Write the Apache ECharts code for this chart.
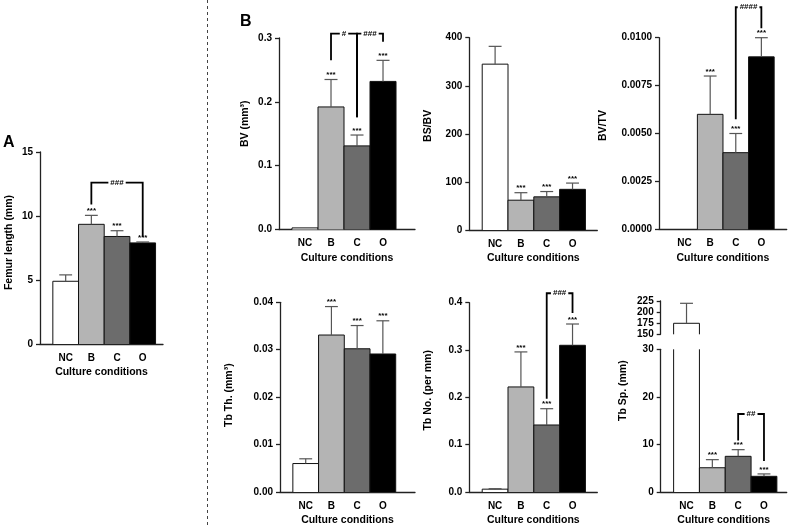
<!DOCTYPE html>
<html><head><meta charset="utf-8">
<script src="https://cdn.jsdelivr.net/npm/echarts@6/dist/echarts.min.js"></script>
<style>html,body{margin:0;padding:0;background:#fff}#c{width:790px;height:527px}</style>
</head><body><div id="c"></div>
<script>
const categories = ['NC', 'B', 'C', 'O'];
const barColors = ['#ffffff', '#b4b4b4', '#6c6c6c', '#000000'];
const xName = 'Culture conditions';

// A: Femur length
const femurTicks = [0, 5, 10, 15];
const femurMean = [4.9, 9.35, 8.4, 7.9];
const femurErr = [0.5, 0.7, 0.45, 0.07];
const femurStars = ['', '***', '***', '***'];
const femurBrackets = [[2, 4, 12.6, 10.9, 8.35]];
const femurBracketLabels = ['###'];

// BV
const bvTicks = [0, 0.1, 0.2, 0.3];
const bvMean = [0.0025, 0.192, 0.131, 0.232];
const bvErr = [0, 0.043, 0.017, 0.033];
const bvStars = ['', '***', '***', '***'];
const bvBrackets = [[2, 3, 0.307, 0.265, 0.176], [3, 4, 0.307, 0.176, 0.294]];
const bvBracketLabels = ['#', '###'];

// BS/BV
const bsbvTicks = [0, 100, 200, 300, 400];
const bsbvMean = [345, 62, 69, 84.6];
const bsbvErr = [37, 15.6, 11, 13];
const bsbvStars = ['', '***', '***', '***'];

// BV/TV
const bvtvTicks = [0, 0.0025, 0.005, 0.0075, 0.01];
const bvtvMean = [0, 0.006, 0.004, 0.009];
const bvtvErr = [0, 0.002, 0.001, 0.001];
const bvtvStars = ['', '***', '***', '***'];
const bvtvBrackets = [[3, 4, 0.01159, 0.00574, 0.01049]];
const bvtvBracketLabels = ['####'];

// Tb Th
const tbthTicks = [0, 0.01, 0.02, 0.03, 0.04];
const tbthMean = [0.006, 0.0331, 0.0302, 0.0291];
const tbthErr = [0.001, 0.006, 0.0049, 0.007];
const tbthStars = ['', '***', '***', '***'];

// Tb No
const tbnoTicks = [0, 0.1, 0.2, 0.3, 0.4];
const tbnoMean = [0.006, 0.222, 0.1416, 0.31];
const tbnoErr = [0.001, 0.074, 0.0344, 0.045];
const tbnoStars = ['', '***', '***', '***'];
const tbnoBrackets = [[3, 4, 0.42, 0.197, 0.378]];
const tbnoBracketLabels = ['###'];

// Tb Sp (broken axis)
const tbspLowTicks = [0, 10, 20, 30];
const tbspHighTicks = [150, 175, 200, 225];
const tbspMean = [174.8, 5.1, 7.5, 3.3];
const tbspErr = [45, 1.7, 1.4, 0.5];
const tbspStars = ['', '***', '***', '***'];
const tbspBrackets = [[3, 4, 16.4, 10.85, 6.5]];
const tbspBracketLabels = ['##'];

const FONT = 'Liberation Sans, Arial, sans-serif';
const AXIS_COLOR = '#222';

const panels = [
  {grid:{left:40, top:152, width:123, height:192}, xMax:4.79, ticks:femurTicks, dec:0, name:'Femur length (mm)', nameGap:25, namePad:[0,0,0,11],
   mean:femurMean, err:femurErr, stars:femurStars, brackets:femurBrackets, bl:femurBracketLabels, showX:true},
  {grid:{left:279, top:38, width:136, height:191.5}, xMax:5.23, ticks:bvTicks, dec:1, name:'BV (mm³)', nameGap:28, namePad:[0,0,0,20],
   mean:bvMean, err:bvErr, stars:bvStars, brackets:bvBrackets, bl:bvBracketLabels, showX:true},
  {grid:{left:469.3, top:37.7, width:128, height:192.3}, xMax:4.96, ticks:bsbvTicks, dec:0, name:'BS/BV', nameGap:36, namePad:[0,0,0,16],
   mean:bsbvMean, err:bsbvErr, stars:bsbvStars, brackets:[], bl:[], showX:true},
  {grid:{left:659, top:37.7, width:127.7, height:191.6}, xMax:4.99, ticks:bvtvTicks, dec:4, name:'BV/TV', nameGap:50, namePad:[0,0,0,16],
   mean:bvtvMean, err:bvtvErr, stars:bvtvStars, brackets:bvtvBrackets, bl:bvtvBracketLabels, showX:true},
  {grid:{left:280, top:302.3, width:135, height:191}, xMax:5.25, ticks:tbthTicks, dec:2, name:'Tb Th. (mm³)', nameGap:45, namePad:[0,0,0,4],
   mean:tbthMean, err:tbthErr, stars:tbthStars, brackets:[], bl:[], showX:true},
  {grid:{left:469.3, top:302.7, width:128, height:191.3}, xMax:4.96, ticks:tbnoTicks, dec:1, name:'Tb No. (per mm)', nameGap:36, namePad:[0,0,0,14],
   mean:tbnoMean, err:tbnoErr, stars:tbnoStars, brackets:tbnoBrackets, bl:tbnoBracketLabels, showX:true},
  {grid:{left:660.7, top:349.3, width:126, height:144.7}, xMax:4.88, ticks:tbspLowTicks, dec:0, name:'Tb Sp. (mm)', nameGap:32, namePad:[0,0,0,60],
   mean:tbspMean, err:tbspErr, stars:tbspStars, brackets:tbspBrackets, bl:tbspBracketLabels, showX:true},
  {grid:{left:660.7, top:301, width:126, height:33.3}, xMax:4.88, ticks:tbspHighTicks, dec:0, name:'', nameGap:32,
   mean:tbspMean, err:tbspErr, stars:tbspStars, brackets:[], bl:[], showX:false}
];

function renderBar(params, api) {
  const x = api.value(0), v = api.value(1), ci = api.value(2);
  if (!(v > 0)) return;
  const cs = params.coordSys;
  const w = api.size([1, 0])[0];
  const pt = api.coord([x, v]), pb = api.coord([x, 0]);
  const topClipped = pt[1] < cs.y;
  const top = Math.max(pt[1], cs.y);
  const bot = Math.min(pb[1], cs.y + cs.height);
  if (bot <= top) return;
  const l = pt[0] - w / 2, r = pt[0] + w / 2;
  const children = [{type:'rect', shape:{x:l, y:top, width:w, height:bot - top}, style:{fill:barColors[ci]}}];
  const ls = {stroke:'#111', lineWidth:1, fill:null};
  if (topClipped) {
    children.push({type:'polyline', shape:{points:[[l, bot], [l, top]]}, style:ls});
    children.push({type:'polyline', shape:{points:[[r, top], [r, bot]]}, style:ls});
  } else {
    children.push({type:'polyline', shape:{points:[[l, bot], [l, top], [r, top], [r, bot]]}, style:ls});
  }
  return {type:'group', children};
}

function makeErr(stars) {
  return function (params, api) {
    const x = api.value(0), m = api.value(1), e = api.value(2);
    const cs = params.coordSys;
    const pm = api.coord([x, m]), pe = api.coord([x, m + e]);
    if (pm[1] < cs.y - 1 || pm[1] > cs.y + cs.height + 1) return;
    const hw = api.size([1, 0])[0] * 0.25;
    const children = [];
    const st = {stroke:'#555', lineWidth:1.2};
    if (e > 0) {
      children.push({type:'line', shape:{x1:pm[0], y1:pm[1], x2:pe[0], y2:pe[1]}, style:st});
      children.push({type:'line', shape:{x1:pe[0] - hw, y1:pe[1], x2:pe[0] + hw, y2:pe[1]}, style:st});
    }
    const s = stars[params.dataIndex];
    if (s) {
      children.push({type:'text', style:{text:s, x:pe[0], y:pe[1] - 0.5, fill:'#000', fontSize:8, fontWeight:'bold', fontFamily:FONT, align:'center', verticalAlign:'bottom'}});
    }
    return {type:'group', children};
  };
}

function makeBracket(labels) {
  return function (params, api) {
    const x1 = api.value(0), x2 = api.value(1), yt = api.value(2), yl = api.value(3), yr = api.value(4);
    const a = api.coord([x1, yl]), b = api.coord([x1, yt]), c = api.coord([x2, yt]), d = api.coord([x2, yr]);
    return {type:'group', children:[
      {type:'polyline', shape:{points:[a, b, c, d]}, style:{stroke:'#000', lineWidth:1.8, fill:null}},
      {type:'text', style:{text:labels[params.dataIndex], x:(b[0] + c[0]) / 2, y:b[1], fill:'#000', fontSize:8, fontWeight:'bold', fontFamily:FONT,
        align:'center', verticalAlign:'middle', backgroundColor:'#fff', padding:[0, 2]}}
    ]};
  };
}

const option = {
  animation:false,
  backgroundColor:'#fff',
  grid:[], xAxis:[], yAxis:[], series:[],
  graphic:[
    {type:'line', shape:{x1:207.5, y1:0, x2:207.5, y2:527}, style:{stroke:'#444', lineWidth:1, lineDash:[3, 3]}},
    {type:'text', left:3, top:135, style:{text:'A', fontSize:16, fontWeight:'bold', fontFamily:FONT, fill:'#000'}},
    {type:'text', left:240, top:14, style:{text:'B', fontSize:16, fontWeight:'bold', fontFamily:FONT, fill:'#000'}}
  ]
};

panels.forEach((p, i) => {
  option.grid.push(Object.assign({containLabel:false}, p.grid));
  option.xAxis.push({
    gridIndex:i, type:'value', min:0, max:p.xMax, interval:1, show:p.showX,
    axisLine:{show:true, lineStyle:{color:AXIS_COLOR, width:1.3}},
    axisTick:{show:false}, splitLine:{show:false},
    axisLabel:{margin:9, color:'#000', fontSize:10, fontWeight:'bold', fontFamily:FONT,
      formatter:v => (Number.isInteger(v) && categories[v - 1]) ? categories[v - 1] : ''},
    name:p.showX ? xName : '', nameLocation:'middle', nameGap:23,
    nameTextStyle:{color:'#000', fontSize:10.5, fontWeight:'bold', fontFamily:FONT}
  });
  const t = p.ticks;
  option.yAxis.push({
    gridIndex:i, type:'value', min:t[0], max:t[t.length - 1], interval:t[1] - t[0],
    axisLine:{show:true, lineStyle:{color:AXIS_COLOR, width:1.3}},
    axisTick:{show:true, length:4, lineStyle:{color:AXIS_COLOR, width:1.3}},
    splitLine:{show:false},
    axisLabel:{margin:7, color:'#000', fontSize:10, fontWeight:'bold', fontFamily:FONT, formatter:v => v.toFixed(p.dec)},
    name:p.name, nameLocation:'middle', nameGap:p.nameGap,
    nameTextStyle:{color:'#000', fontSize:10.5, fontWeight:'bold', fontFamily:FONT, padding:p.namePad || 0}
  });
  option.series.push({
    type:'custom', xAxisIndex:i, yAxisIndex:i, renderItem:renderBar, encode:{x:0, y:1},
    data:categories.map((c, k) => [k + 1, p.mean[k], k])
  });
  option.series.push({
    type:'custom', xAxisIndex:i, yAxisIndex:i, renderItem:makeErr(p.stars), encode:{x:0, y:1},
    data:categories.map((c, k) => [k + 1, p.mean[k], p.err[k]])
  });
  if (p.brackets.length) {
    option.series.push({
      type:'custom', xAxisIndex:i, yAxisIndex:i, renderItem:makeBracket(p.bl), encode:{x:[0, 1], y:[2, 3, 4]},
      data:p.brackets
    });
  }
});

const chart = echarts.init(document.getElementById('c'), null, {renderer:'canvas'});
chart.setOption(option);
</script>
</body></html>
